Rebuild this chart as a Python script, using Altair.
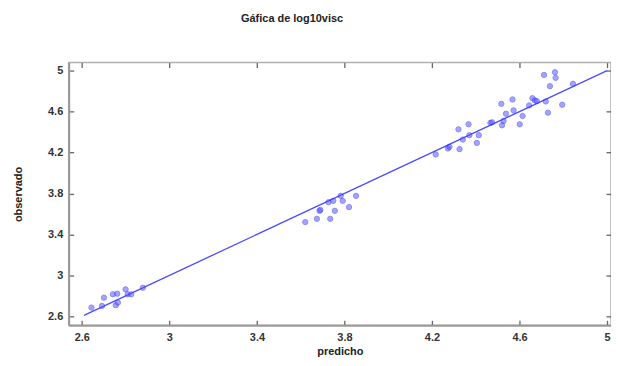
import altair as alt
import pandas as pd

predicho = [
    2.644, 2.692, 2.701, 2.742, 2.762, 2.755, 2.765, 2.800, 2.810, 2.826, 2.879,
    3.621, 3.674, 3.735, 3.686, 3.690, 3.756, 3.821, 3.727, 3.749, 3.783, 3.792, 3.853,
    4.217, 4.273, 4.280, 4.326, 4.321, 4.341, 4.367, 4.371, 4.405, 4.414, 4.467, 4.475,
    4.520, 4.527, 4.517, 4.538, 4.568, 4.573, 4.601, 4.614, 4.644, 4.659, 4.670, 4.679,
    4.720, 4.712, 4.730, 4.739, 4.762, 4.765, 4.795, 4.844,
]
observado = [
    2.686, 2.702, 2.783, 2.816, 2.822, 2.709, 2.735, 2.864, 2.816, 2.816, 2.880,
    3.521, 3.553, 3.553, 3.631, 3.640, 3.631, 3.667, 3.715, 3.728, 3.777, 3.728, 3.777,
    4.181, 4.240, 4.256, 4.233, 4.427, 4.327, 4.476, 4.369, 4.294, 4.369, 4.490, 4.495,
    4.466, 4.508, 4.676, 4.579, 4.718, 4.612, 4.476, 4.557, 4.660, 4.731, 4.709, 4.702,
    4.699, 4.958, 4.589, 4.848, 4.984, 4.929, 4.667, 4.871,
]
line_x = [2.61, 5.0]
line_y = [2.61, 5.0]
ticks = [2.6, 3, 3.4, 3.8, 4.2, 4.6, 5]

pts = pd.DataFrame({"predicho": predicho, "observado": observado})
ln = pd.DataFrame({"predicho": line_x, "observado": line_y})

W, H = 545, 264
xs = alt.Scale(domain=[2.54, 5.018], nice=False, zero=False)
ys = alt.Scale(domain=[2.513, 5.078], nice=False, zero=False)

lab = dict(labelFont="Liberation Sans", labelFontSize=11, labelFontWeight="bold",
           labelColor="#333333", titleFont="Liberation Sans", titleFontSize=11,
           titleFontWeight="bold", titleColor="#222222")

tick_style = dict(labels=False, domain=False, ticks=True, tickSize=5,
                  tickColor="#666666", tickWidth=1.3, grid=False, title=None)

points = alt.Chart(pts).mark_circle(size=28, color="#5a5aff", opacity=0.55,
                                     stroke="#2a2aff", strokeWidth=1).encode(
    x=alt.X("predicho:Q", scale=xs, axis=alt.Axis(
        orient="bottom", values=ticks, format="~g", ticks=False, grid=False,
        domainColor="#999999", domainWidth=2, labelPadding=6, titlePadding=3,
        title="predicho", **lab)),
    y=alt.Y("observado:Q", scale=ys, axis=alt.Axis(
        orient="left", values=ticks, format="~g", ticks=False, grid=False,
        domainColor="#999999", domainWidth=2, labelPadding=6, titlePadding=24,
        title="observado", **lab)),
)

line = alt.Chart(ln).mark_line(color="#4a4aff", strokeWidth=1.3).encode(
    x=alt.X("predicho:Q", scale=xs, axis=alt.Axis(
        orient="top", offset=-H, values=ticks, **tick_style)),
    y=alt.Y("observado:Q", scale=ys, axis=alt.Axis(
        orient="right", offset=-W, values=ticks, **tick_style)),
)

line2 = alt.Chart(ln).mark_line(color="#4a4aff", strokeWidth=1.3, opacity=0).encode(
    x=alt.X("predicho:Q", scale=xs, axis=alt.Axis(
        orient="bottom", offset=-H, values=ticks, **tick_style)),
    y=alt.Y("observado:Q", scale=ys, axis=alt.Axis(
        orient="left", offset=-W, values=ticks, **tick_style)),
)

chart = alt.layer(line, line2, points).resolve_axis(
    x="independent", y="independent"
).properties(
    width=W, height=H,
    title=alt.TitleParams("Gáfica de log10visc", font="Liberation Sans", fontSize=11,
                          fontWeight="bold", color="#222222", anchor="middle",
                          dx=-48, offset=38),
    autosize=alt.AutoSizeParams(type="none"),
    padding={"left": 61, "top": 54, "right": 0, "bottom": 36},
).configure_view(stroke="#b0b0b0", strokeWidth=1.5)

chart.save("out.html", embed_options={"renderer": "svg", "actions": False})
